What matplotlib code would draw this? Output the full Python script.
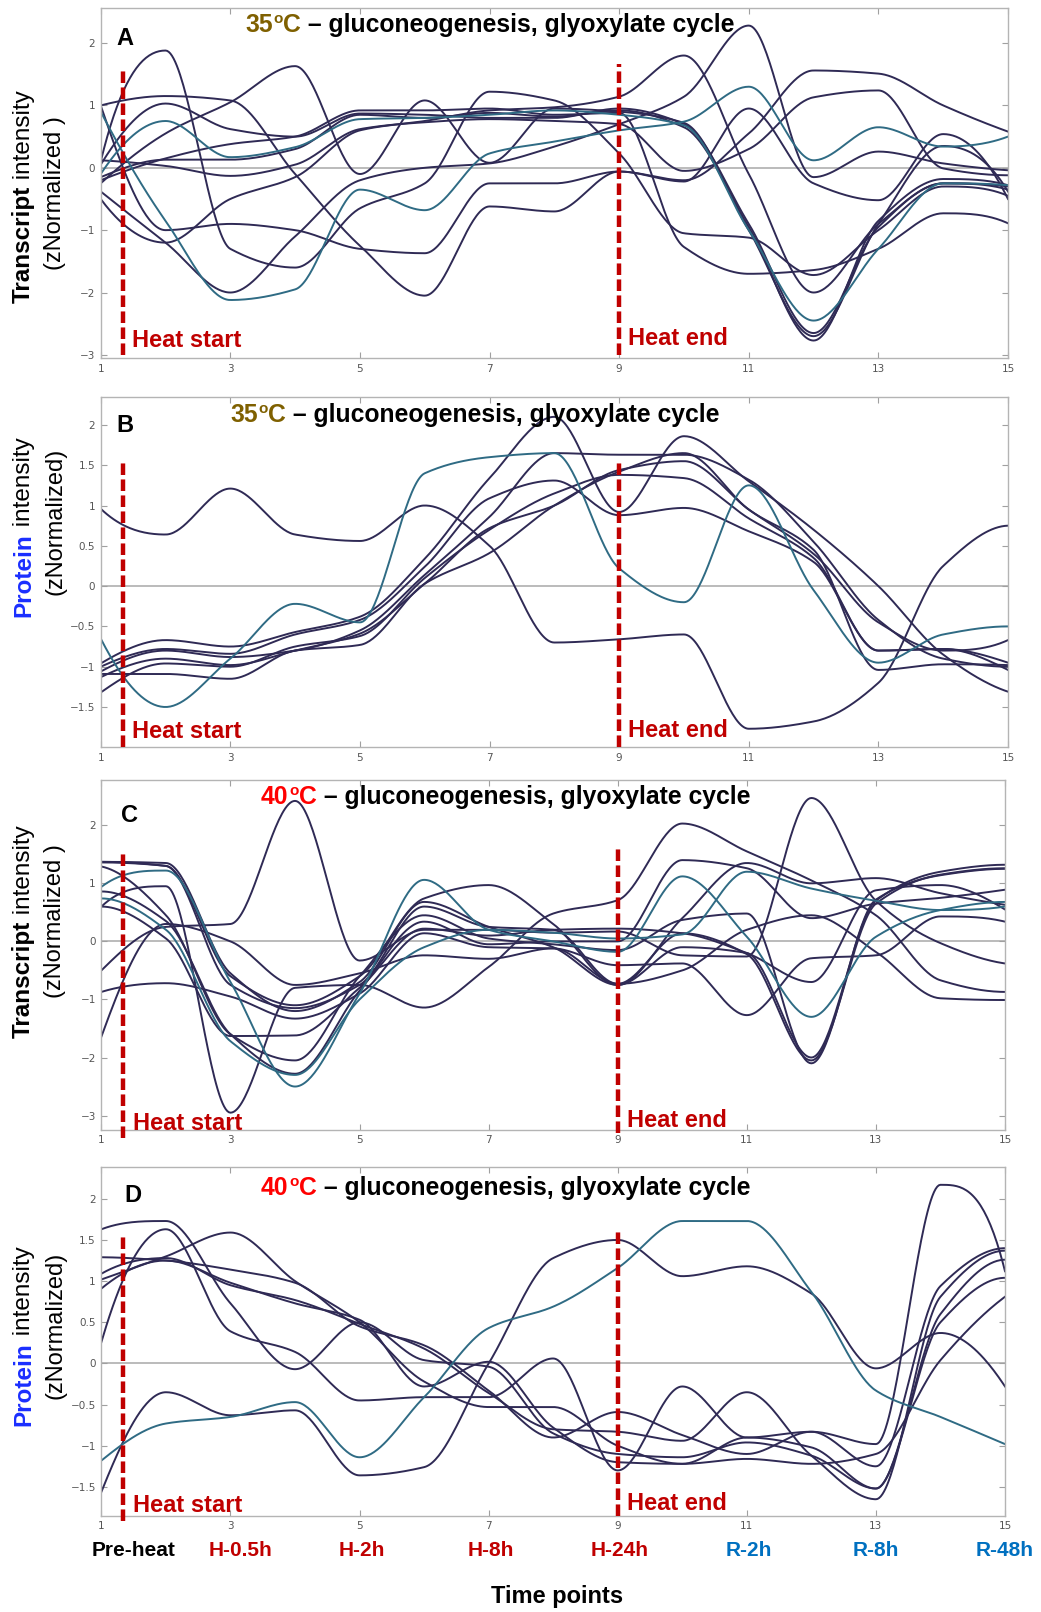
import numpy as np
import matplotlib.pyplot as plt
from matplotlib.transforms import blended_transform_factory

plt.rcParams['font.family'] = ['Liberation Sans', 'DejaVu Sans']

# sampling positions along the time axis
x_pos = np.arange(1, 16)

# A - transcripts at 35 C
a_dark = [
    [1.0, 1.15, 1.08, -0.1, -1.25, -2.05, -0.62, -0.7, -0.06, -0.2, 0.55, 1.56, 1.51, 1.0, 0.58],
    [-0.25, 0.55, 1.05, 1.63, -0.1, 1.08, 0.08, 0.95, 0.9, 0.72, -1.0, -2.7, -0.9, 0.35, -0.38],
    [0.1, 1.88, -1.3, -1.6, -0.65, -0.25, 1.22, 1.08, 0.23, -1.05, -1.12, -1.72, -1.0, -0.3, -0.45],
    [-0.5, -1.2, -0.5, -0.15, 0.6, 0.75, 0.92, 0.97, 1.14, 1.8, -0.1, -2.0, -0.9, -0.25, -0.3],
    [1.0, -1.0, -0.9, -1.0, -1.3, -1.37, -0.25, -0.25, -0.06, -0.22, 0.95, -0.25, -0.52, 0.54, -0.5],
    [-0.38, -1.2, -2.0, -1.1, -0.2, 0.0, 0.07, 0.34, 0.7, 1.14, 2.28, -0.15, 0.26, 0.07, -0.04],
    [0.05, 1.03, 0.62, 0.5, 0.87, 0.85, 0.8, 0.8, 0.95, 0.7, -0.9, -2.65, -0.95, -0.25, -0.35],
    [-0.2, 0.15, 0.38, 0.5, 0.92, 0.92, 0.95, 0.85, 0.88, -1.27, -1.7, -1.64, -1.3, -0.73, -0.89],
    [-0.15, 0.13, 0.13, 0.3, 0.85, 0.8, 0.88, 0.82, 0.92, 0.65, -0.95, -2.77, -0.85, -0.18, -0.28],
    [0.12, 0.03, -0.13, 0.05, 0.62, 0.73, 0.78, 0.75, 0.7, -0.05, 0.3, 1.13, 1.24, -0.01, -0.12],
]
a_teal = [
    [-0.1, 0.75, 0.17, 0.33, 0.78, 0.8, 0.85, 0.92, 0.85, 0.68, -1.0, -2.45, -1.3, -0.25, -0.28],
    [0.9, -0.85, -2.12, -1.95, -0.35, -0.68, 0.23, 0.42, 0.6, 0.74, 1.3, 0.12, 0.65, 0.34, 0.5],
]

# B - proteins at 35 C
b_dark = [
    [0.96, 0.64, 1.21, 0.64, 0.56, 1.0, 0.5, -0.7, -0.66, -0.6, -1.77, -1.68, -1.2, 0.25, 0.75],
    [-0.96, -0.67, -0.75, -0.57, -0.38, 0.34, 1.34, 2.1, 0.92, 1.86, 1.3, 0.7, 0.0, -0.85, -1.31],
    [-1.0, -0.78, -0.84, -0.6, -0.42, 0.24, 1.09, 1.31, 0.88, 0.97, 0.68, 0.3, -0.8, -0.78, -0.95],
    [-1.06, -0.8, -0.88, -0.8, -0.55, 0.14, 0.86, 1.65, 1.63, 1.63, 1.32, 0.55, -0.42, -0.9, -1.0],
    [-1.13, -0.9, -0.98, -0.8, -0.59, 0.03, 0.72, 1.0, 1.44, 1.55, 0.95, 0.4, -0.45, -0.8, -0.67],
    [-1.32, -0.96, -1.0, -0.75, -0.62, 0.1, 0.7, 1.15, 1.38, 1.34, 0.84, 0.35, -0.8, -0.78, -1.04],
    [-1.09, -1.09, -1.15, -0.8, -0.73, 0.03, 0.41, 1.0, 1.42, 1.65, 0.95, 0.45, -1.04, -0.97, -0.98],
]
b_teal = [
    [-0.65, -1.5, -0.9, -0.22, -0.45, 1.4, 1.6, 1.65, 0.22, -0.2, 1.25, -0.05, -0.95, -0.6, -0.5],
]

# C - transcripts at 40 C
c_dark = [
    [-0.5, 0.25, 0.3, 2.42, -0.33, 0.2, 0.2, 0.15, 0.17, -0.24, -0.26, 2.47, 0.7, -0.03, -0.38],
    [0.6, 0.95, -2.95, -0.8, -0.75, -1.14, -0.44, 0.48, 0.71, 2.03, 1.55, 1.05, 0.45, -0.67, -0.87],
    [1.37, 1.3, -0.6, -1.1, -0.6, 0.74, 0.97, 0.3, -0.75, 0.4, 1.35, 1.0, 1.09, 0.83, 0.63],
    [1.37, 1.35, -0.55, -1.2, -0.7, 0.68, 0.25, -0.1, -0.75, -0.1, -0.2, -2.0, 0.7, 1.2, 1.32],
    [1.36, 1.3, -0.75, -1.15, -0.75, 0.6, 0.25, 0.2, -0.73, 0.14, -0.22, -2.05, 0.65, 1.15, 1.26],
    [1.29, 0.45, -1.6, -2.05, -0.6, 0.45, 0.05, -0.05, -0.15, 0.37, 0.48, -2.1, 0.72, 1.14, 1.25],
    [0.86, 0.35, -1.6, -2.28, -0.85, 0.34, -0.05, 0.0, 0.0, 1.4, 1.26, 0.4, 0.65, 0.75, 0.89],
    [0.6, 0.05, -1.63, -1.62, -0.8, 0.22, 0.1, 0.2, 0.22, 0.14, -0.2, -0.7, 0.88, 0.97, 0.55],
    [-0.87, -0.72, -0.95, -1.33, -0.9, 0.14, -0.1, -0.12, -0.41, -0.38, -1.27, -0.29, -0.24, 0.43, 0.34],
    [-1.64, 0.3, 0.0, -0.75, -0.55, -0.24, -0.3, -0.12, -0.73, -0.5, 0.2, 0.45, -0.18, -0.98, -1.01],
]
c_teal = [
    [0.94, 1.22, -0.7, -2.5, -0.9, 1.06, 0.2, 0.0, -0.18, 1.12, 0.08, -1.3, 0.08, 0.54, 0.68],
    [0.74, 0.2, -1.72, -2.3, -1.0, -0.1, 0.2, 0.15, 0.05, 0.12, 1.2, 0.91, 0.7, 0.54, 0.6],
]

# D - proteins at 40 C
d_dark = [
    [1.63, 1.73, 0.73, -0.07, 0.5, 0.04, -0.04, -0.85, -1.1, -1.14, -0.96, -1.12, -1.52, 0.6, 1.26],
    [0.26, 1.63, 0.39, 0.14, -0.45, -0.41, -0.41, 0.06, -1.3, -0.28, -0.9, -0.83, -0.98, 2.17, 1.12],
    [-1.56, -0.35, -0.63, -0.57, -1.36, -1.26, 0.0, 1.28, 1.5, 1.06, 1.18, 0.85, -0.06, 0.37, -0.28],
    [1.29, 1.25, 1.14, 0.98, 0.45, 0.22, -0.33, -0.9, -0.59, -0.87, -1.1, -0.83, -1.25, 0.94, 1.4],
    [1.09, 1.28, 0.95, 0.77, 0.48, 0.18, -0.36, -0.8, -0.83, -0.94, -0.35, -1.12, -1.65, 0.81, 1.37],
    [1.02, 1.3, 1.59, 1.0, 0.5, -0.22, -0.53, -0.53, -1.0, -1.22, -0.9, -1.02, -1.52, 0.5, 1.04],
    [0.91, 1.25, 0.98, 0.73, 0.53, -0.28, 0.02, -0.78, -1.2, -1.22, -1.16, -1.22, -1.1, 0.04, 0.81],
]
d_teal = [
    [-1.18, -0.73, -0.65, -0.47, -1.14, -0.41, 0.43, 0.69, 1.16, 1.73, 1.73, 0.87, -0.33, -0.65, -0.98],
]

time_labels = ['Pre-heat', 'H-0.5h', 'H-2h', 'H-8h', 'H-24h', 'R-2h', 'R-8h', 'R-48h']

DARK = '#2f2a55'
TEAL = '#2f6b84'
HEAT = '#c00000'
RECOV = '#0070c0'
OLIVE = '#7f6000'
TITLE_FONT = 'Liberation Sans'


def smooth(y, n=40):
    # monotone cubic (Fritsch-Carlson) through the sampled values
    y = np.asarray(y, float)
    d = np.diff(y)
    m = np.zeros_like(y)
    for k in range(1, len(y) - 1):
        if d[k - 1] * d[k] > 0:
            m[k] = 2.0 / (1.0 / d[k - 1] + 1.0 / d[k])
    for k, (d0, d1) in ((0, (d[0], d[1])), (-1, (d[-1], d[-2]))):
        v = (3 * d0 - d1) / 2.0
        if np.sign(v) != np.sign(d0):
            v = 0.0
        elif np.sign(d0) != np.sign(d1) and abs(v) > 3 * abs(d0):
            v = 3 * d0
        m[k] = v
    t = np.linspace(0, 1, n, endpoint=False)
    h00 = 2 * t**3 - 3 * t**2 + 1
    h10 = t**3 - 2 * t**2 + t
    h01 = -2 * t**3 + 3 * t**2
    h11 = t**3 - t**2
    xs, ys = [], []
    for k in range(len(y) - 1):
        xs.append(x_pos[k] + t)
        ys.append(h00 * y[k] + h10 * m[k] + h01 * y[k + 1] + h11 * m[k + 1])
    xs.append([x_pos[-1]])
    ys.append([y[-1]])
    return np.concatenate(xs), np.concatenate(ys)


def fmt(v):
    s = '%g' % v
    return s.replace('-', '\u2212')


def panel_title(ax, x0, y0, temp, temp_color):
    kw = dict(fontsize=17.8, fontweight='bold', family=TITLE_FONT, va='baseline', ha='left')
    t1 = ax.text(x0, y0, temp, color=temp_color, transform=ax.transAxes, **kw)
    t2 = ax.annotate('o', xy=(1, y0), xycoords=(t1, 'axes fraction'),
                     xytext=(0.3, 6.5), textcoords='offset points',
                     color=temp_color, fontsize=11, fontweight='bold',
                     family=TITLE_FONT, va='baseline', ha='left')
    t3 = ax.annotate('C', xy=(1, y0), xycoords=(t2, 'axes fraction'),
                     xytext=(0.3, 0), textcoords='offset points', color=temp_color, **kw)
    ax.annotate(' \u2013 gluconeogenesis, glyoxylate cycle', xy=(1, y0),
                xycoords=(t3, 'axes fraction'), color='black', **kw)


def side_label(fig, first, first_color, second, y_bottom_px, y_center2_px):
    H = 1612.0
    kw = dict(fontsize=17.5, rotation=90, rotation_mode='anchor', ha='left', va='baseline',
              family=TITLE_FONT)
    t1 = fig.text(30 / 1041, 1 - y_bottom_px / H, first, color=first_color,
                  fontweight='bold', **kw)
    fig.axes[0].annotate(' intensity', xy=(30 / 1041, 1), xycoords=('figure fraction', t1),
                         color='black', annotation_clip=False, **kw)
    fig.text(61.5 / 1041, 1 - y_center2_px / H, second, fontsize=17, rotation=90,
             rotation_mode='anchor', ha='center', va='baseline', family=TITLE_FONT)


fig = plt.figure(figsize=(10.41, 16.12), dpi=100)

W, H = 1041.0, 1612.0
panels = [
    dict(box=(100.7, 7.5, 1008, 358), dark=a_dark, teal=a_teal, ylim=(-3.05, 2.57),
         yticks=[-3, -2, -1, 0, 1, 2], letter='A', lpos=(0.0176, 0.893),
         temp='35', tcol=OLIVE, tpos=(0.159, 0.931), first='Transcript', fcol='black',
         second='(zNormalized )', lab=(303, 192.6), dash=((1.58, -3.0), (1.66, -3.0)),
         htxt=(0.032, 0.037)),
    dict(box=(100.7, 396.7, 1008, 747.3), dark=b_dark, teal=b_teal, ylim=(-2.0, 2.35),
         yticks=[-1.5, -1, -0.5, 0, 0.5, 1, 1.5, 2], letter='B', lpos=(0.017, 0.90),
         temp='35', tcol=OLIVE, tpos=(0.1425, 0.927), first='Protein', fcol='#1a2eff',
         second='(zNormalized)', lab=(617, 521.5), dash=((1.55, -2.0), (1.58, -2.0)),
         htxt=(0.026, 0.03)),
    dict(box=(101.4, 780, 1005, 1129.5), dark=c_dark, teal=c_teal, ylim=(-3.24, 2.78),
         yticks=[-3, -2, -1, 0, 1, 2], letter='C', lpos=(0.022, 0.88),
         temp='40', tcol='#ff0000', tpos=(0.1766, 0.93), first='Transcript', fcol='black',
         second='(zNormalized )', lab=(1038, 921), dash=((1.52, -3.39), (1.6, -3.3)),
         htxt=(0.0, 0.006)),
    dict(box=(101.4, 1166.7, 1005, 1515.7), dark=d_dark, teal=d_teal, ylim=(-1.85, 2.39),
         yticks=[-1.5, -1, -0.5, 0, 0.5, 1, 1.5, 2], letter='D', lpos=(0.025, 0.898),
         temp='40', tcol='#ff0000', tpos=(0.1766, 0.919), first='Protein', fcol='#1a2eff',
         second='(zNormalized)', lab=(1426, 1325.7), dash=((1.56, -1.92), (1.61, -1.85)),
         htxt=(0.012, 0.016)),
]

axes = []
for p in panels:
    l, t, r, b = p['box']
    ax = fig.add_axes([l / W, 1 - b / H, (r - l) / W, (b - t) / H])
    axes.append(ax)
    ax.set_xlim(1, 15)
    ax.set_ylim(*p['ylim'])
    ax.axhline(0, color='#a8a8a8', lw=1.1, zorder=1)
    for series in p['dark']:
        ax.plot(*smooth(series), color=DARK, lw=1.4, zorder=2)
    for series in p['teal']:
        ax.plot(*smooth(series), color=TEAL, lw=1.4, zorder=2)

    (top1, bot1), (top2, bot2) = p['dash']
    ax.plot([1.34, 1.34], [bot1, top1], color=HEAT, lw=3.2, dashes=(2.6, 1.0),
            clip_on=False, zorder=3)
    ax.plot([9.0, 9.0], [bot2, top2], color=HEAT, lw=3.2, dashes=(2.6, 1.0),
            clip_on=False, zorder=3)
    ht = blended_transform_factory(ax.transData, ax.transAxes)
    ax.text(1.49, p['htxt'][0], 'Heat start', transform=ht, color=HEAT, fontsize=17,
            fontweight='bold', va='baseline', ha='left', zorder=4)
    ax.text(9.14, p['htxt'][1], 'Heat end', transform=ht, color=HEAT, fontsize=17,
            fontweight='bold', va='baseline', ha='left', zorder=4)

    ax.text(p['lpos'][0], p['lpos'][1], p['letter'], transform=ax.transAxes, fontsize=17,
            fontweight='bold', va='baseline', ha='left')
    panel_title(ax, p['tpos'][0], p['tpos'][1], p['temp'], p['tcol'])

    ax.set_xticks(range(1, 16, 2))
    ax.set_xticklabels([fmt(v) for v in range(1, 16, 2)])
    ax.set_yticks(p['yticks'])
    ax.set_yticklabels([fmt(v) for v in p['yticks']])
    ax.tick_params(direction='in', length=4, width=0.8, color='#a0a0a0', labelsize=7.5,
                   labelcolor='#555555', top=True, right=True, pad=4)
    for lab in ax.get_xticklabels() + ax.get_yticklabels():
        lab.set_family('DejaVu Sans')
    for sp in ax.spines.values():
        sp.set_color('#b4b4b4')
        sp.set_linewidth(1.0)

for p in panels:
    side_label(fig, p['first'], p['fcol'], p['second'], p['lab'][0], p['lab'][1])

# time point names under the last panel
ax_d = axes[-1]
bt = blended_transform_factory(ax_d.transData, fig.transFigure)
label_x = [1.5, 3.15, 5.03, 7.03, 9.03, 11.03, 13.0, 15.0]
for xv, name in zip(label_x, time_labels):
    col = 'black' if name.startswith('Pre') else (HEAT if name.startswith('H') else RECOV)
    ax_d.text(xv, 1 - 1550 / H, name, transform=bt, color=col, fontsize=15,
              fontweight='bold', ha='center', va='center', clip_on=False)
fig.text(557 / W, 1 - 1596.5 / H, 'Time points', fontsize=17, fontweight='bold',
         ha='center', va='center')

fig.savefig('out.png', dpi=100)
